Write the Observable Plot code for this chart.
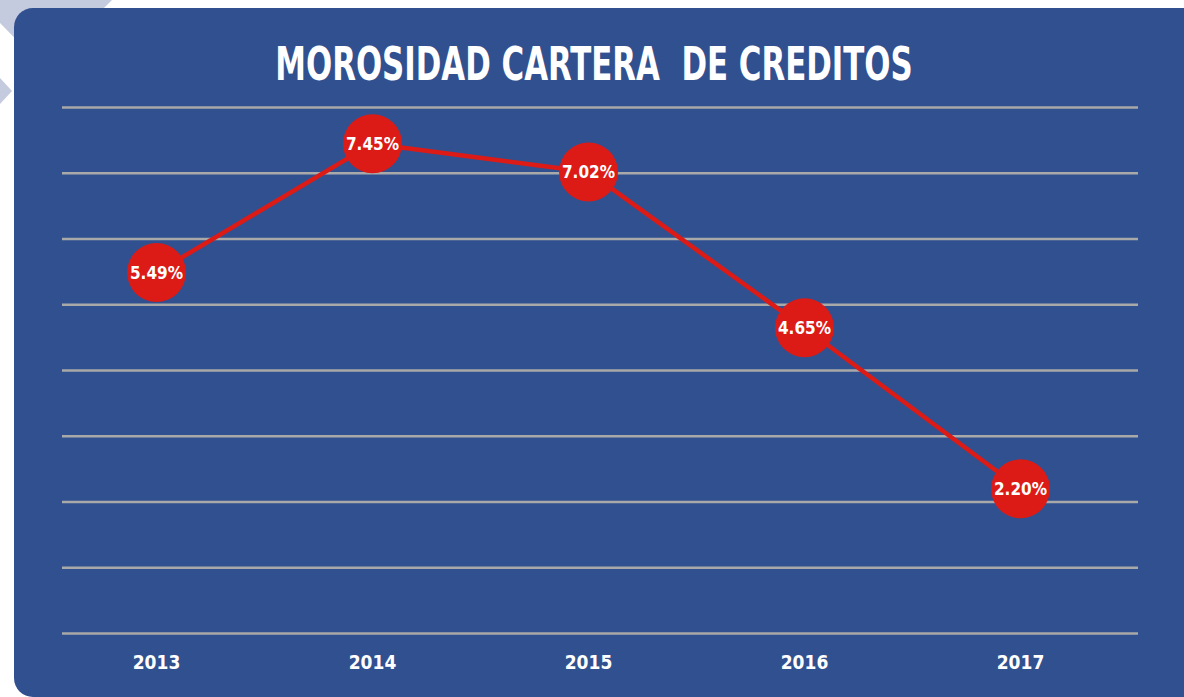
<!DOCTYPE html>
<html>
<head>
<meta charset="utf-8">
<script src="https://cdn.jsdelivr.net/npm/d3@7"></script>
<script src="https://cdn.jsdelivr.net/npm/@observablehq/plot@0.6"></script>
<style>
  html, body { margin: 0; padding: 0; background: #ffffff; }
  body { width: 1184px; height: 697px; overflow: hidden; position: relative;
         font-family: "DejaVu Sans Condensed", "Liberation Sans", sans-serif; }
  .deco { position: absolute; background: #c4cbdf; }
  #decoA { left: 0; top: 0; width: 130px; height: 80px; clip-path: polygon(0 0, 112px 0, 44px 68px, 0 23px); }
  #decoB { left: 0; top: 70px; width: 40px; height: 40px; clip-path: polygon(0 8px, 12px 21px, 0 34px); }
  #panel { position: absolute; left: 14px; top: 8px; width: 1190px; height: 689px;
           background: #31508f; border-radius: 19px; }
  #content { position: absolute; left: 0; top: 0; width: 1184px; height: 697px; }
  #title { height: 100px; width: 1184px; position: relative; }
  #title span { position: absolute; left: 594px; top: 34px; transform: translateX(-50%) scaleX(0.745);
                white-space: pre; color: #ffffff; font-weight: bold; font-size: 46px; line-height: 60px; }
  #chart svg { display: block; }
</style>
</head>
<body>
<div class="deco" id="decoA"></div>
<div class="deco" id="decoB"></div>
<div id="panel"></div>
<div id="content">
  <div id="title"><span>MOROSIDAD CARTERA  DE CREDITOS</span></div>
  <div id="chart"></div>
</div>
<script>
const years = ["2013", "2014", "2015", "2016", "2017"];
const morosidad = [5.49, 7.45, 7.02, 4.65, 2.20];
const gridTicks = [0, 1, 2, 3, 4, 5, 6, 7, 8];

const data = years.map((y, i) => ({year: y, value: morosidad[i]}));

const red = "#dc1b17";
const chart = Plot.plot({
  width: 1184,
  height: 597,
  marginTop: 7,
  marginBottom: 64,
  marginLeft: 62,
  marginRight: 46,
  style: {background: "transparent", color: "#ffffff", fontFamily: "'DejaVu Sans Condensed', sans-serif"},
  x: {type: "point", domain: years, range: [155, 1021], padding: 0, label: null},
  y: {domain: [0, 8], axis: null},
  marks: [
    Plot.ruleY(gridTicks, {stroke: "#a9a9a9", strokeWidth: 2.5}),
    Plot.axisX({tickSize: 0, tickPadding: 22, fontSize: 19, fontWeight: "bold", fill: "#ffffff", label: null}),
    Plot.line(data, {x: "year", y: "value", stroke: red, strokeWidth: 4.5}),
    Plot.dot(data, {x: "year", y: "value", r: 29.5, fill: red, stroke: "none"}),
    Plot.text(data, {x: "year", y: "value", text: d => d.value.toFixed(2) + "%", fill: "#ffffff",
                     fontSize: 17, fontWeight: "bold", dy: 1})
  ]
});
document.getElementById("chart").appendChild(chart);
</script>
</body>
</html>
